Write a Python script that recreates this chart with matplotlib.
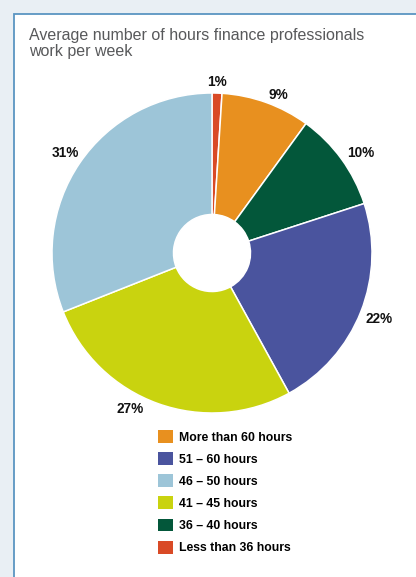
import numpy as np
import matplotlib.pyplot as plt
from matplotlib.patches import Rectangle, Patch

# slices in drawing order (clockwise from 12 o'clock)
categories = ['Less than 36 hours', 'More than 60 hours', '36 \u2013 40 hours',
              '51 \u2013 60 hours', '41 \u2013 45 hours', '46 \u2013 50 hours']
shares = [1, 9, 10, 22, 27, 31]
colors = ['#d94a26', '#e8901f', '#03573a', '#4a549e', '#c9d30f', '#9dc5d8']

# legend order as printed
legend_order = ['More than 60 hours', '51 \u2013 60 hours', '46 \u2013 50 hours',
                '41 \u2013 45 hours', '36 \u2013 40 hours', 'Less than 36 hours']

W, H = 416, 577
fig = plt.figure(figsize=(W/100, H/100), dpi=100)
fig.patch.set_facecolor('#e9eff4')

# white panel with blue edge
panel = Rectangle((13.5/W, -0.1), 1.2, 1 - 13.5/H + 0.1, transform=fig.transFigure,
                  facecolor='white', edgecolor='#5b95c2', lw=1.3, zorder=-5)
fig.patches.append(panel)

fig.text(29/W, 1 - 28/H, 'Average number of hours finance professionals\nwork per week',
         family=['Liberation Sans', 'DejaVu Sans'], fontsize=11.55, color='#58595b',
         va='top', ha='left', linespacing=1.12)

cx, cy, r = 212, 253, 160
ax = fig.add_axes([(cx - r)/W, 1 - (cy + r)/H, 2*r/W, 2*r/H])
ax.set_zorder(2)
wedges, _ = ax.pie(shares, colors=colors, startangle=90, counterclock=False,
                   radius=1, wedgeprops=dict(width=1 - 38.5/r, edgecolor='white', linewidth=1.1))
ax.set_xlim(-1, 1)
ax.set_ylim(-1, 1)
ax.set_aspect('equal')
ax.axis('off')

label_font = ['Liberation Sans Narrow', 'Liberation Sans', 'DejaVu Sans']
dist = [1.07, 1.07, 1.12, 1.12, 1.10, 1.11]
nudge = [0, -3, -2, 0, -8, 0]
for w, s, d, n in zip(wedges, shares, dist, nudge):
    ang = np.deg2rad((w.theta1 + w.theta2) / 2 + n)
    ax.text(d*np.cos(ang), d*np.sin(ang), f'{s}%', ha='center', va='center',
            family=label_font, fontweight='bold', fontsize=9.8, color='#111111',
            clip_on=False)

handles = [Patch(facecolor=colors[categories.index(c)], edgecolor='none') for c in legend_order]
leg = fig.legend(handles, legend_order, loc='upper left', bbox_to_anchor=(158/W, 1 - 430/H),
                 frameon=False, prop=dict(family=label_font, weight='bold', size=8.8),
                 handlelength=1.25, handleheight=1.25, handletextpad=0.45,
                 labelspacing=0.7, borderpad=0, borderaxespad=0)
leg.set_zorder(3)

fig.savefig('out.png', dpi=100, facecolor=fig.get_facecolor())
